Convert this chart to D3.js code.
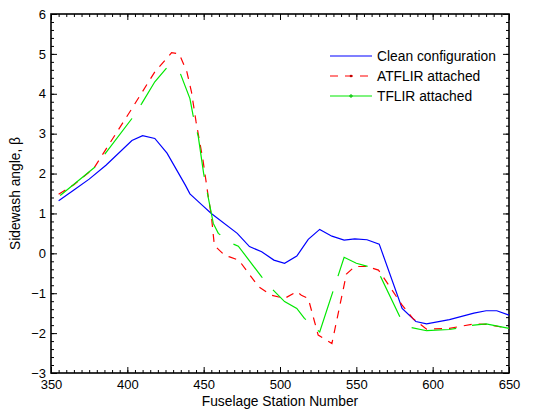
<!DOCTYPE html>
<html><head><meta charset="utf-8">
<script src="https://cdn.jsdelivr.net/npm/d3@7"></script>
<style>body{margin:0;background:#fff}svg{display:block}text{font-family:"Liberation Sans",Arial,sans-serif;fill:#000}</style>
</head><body>
<script>
const seriesNames = ["Clean configuration", "ATFLIR attached", "TFLIR attached"];
const cleanX = [355,365,375,386,403,410,418,426,438,441,449,455,472,480,488,496,503,511,518.5,526,534,542,549,557,565,580,589,596,611,627,635,642,650];
const cleanY = [1.32,1.59,1.86,2.21,2.83,2.95,2.88,2.51,1.71,1.49,1.21,1.0,0.5,0.17,0.04,-0.17,-0.25,-0.07,0.35,0.6,0.43,0.33,0.36,0.34,0.23,-1.38,-1.71,-1.77,-1.66,-1.5,-1.44,-1.44,-1.55];
const atflirX = [355,365,378,385,403,418,429,434,439,442,445,449.5,453,455,457,464,467,473,486,494.5,503,511,514,518.5,525,534,543.5,549,557,564.5,572,580,587,596,611,627,635,650];
const atflirY = [1.48,1.72,2.13,2.55,3.63,4.55,5.03,5.0,4.55,4.05,3.3,2.35,1.42,0.95,0.2,-0.06,-0.09,-0.17,-0.84,-1.05,-1.13,-0.96,-1.05,-1.13,-2.05,-2.26,-0.52,-0.33,-0.33,-0.42,-0.84,-1.3,-1.63,-1.9,-1.88,-1.77,-1.78,-1.88];
const tflirX = [355,379,385.5,403,409.5,418,426,434.5,441,443,446.5,450,453,456.3,459.6,468.3,472.7,488,494.5,503,511,516,526,542,550,557.7,566,578.5,586,596,611,627,635,650];
const tflirY = [1.42,2.17,2.5,3.38,3.76,4.3,4.66,4.53,3.88,3.47,2.92,2.0,1.4,0.75,0.5,0.25,0.18,-0.59,-0.88,-1.21,-1.38,-1.63,-1.97,-0.1,-0.25,-0.33,-0.59,-1.59,-1.86,-1.94,-1.91,-1.8,-1.77,-1.88];
const xTicks = [350,400,450,500,550,600,650];
const yTicks = [-3,-2,-1,0,1,2,3,4,5,6];
const xTitle = "Fuselage Station Number";
const yTitle = "Sidewash angle, β";

const W = 534, H = 414;
const m = {l:51, r:509, t:14, b:373};
const svg = d3.select("body").append("svg").attr("width", W).attr("height", H);
const x = d3.scaleLinear().domain([350,650]).range([m.l, m.r]);
const y = d3.scaleLinear().domain([-3,6]).range([m.b, m.t]);

const minorX = d3.range(350, 651, 5);
const minorY = d3.range(-3, 6.001, 0.2).map(v => +v.toFixed(1));

function axis(gen, scale, vals, size, tr, labels) {
  const g = svg.append("g").attr("transform", tr)
    .call(gen(scale).tickValues(vals).tickSize(size).tickSizeOuter(0).tickPadding(labels ? 7 : 0)
      .tickFormat(labels ? d3.format("d") : ""));
  g.select(".domain").remove();
  g.selectAll("line").attr("stroke", "#000").attr("stroke-width", 1);
  g.selectAll("text").attr("font-size", 13).style("font-family", '"Liberation Sans", Arial, sans-serif');
  return g;
}
// minor ticks (inward)
axis(d3.axisBottom, x, minorX, -3, `translate(0,${m.b})`, false);
axis(d3.axisTop, x, minorX, -3, `translate(0,${m.t})`, false);
axis(d3.axisLeft, y, minorY, -3, `translate(${m.l},0)`, false);
axis(d3.axisRight, y, minorY, -3, `translate(${m.r},0)`, false);
// major ticks
const gx = axis(d3.axisBottom, x, xTicks, -6, `translate(0,${m.b})`, true);
gx.selectAll("text").attr("y", 7);
axis(d3.axisTop, x, xTicks, -6, `translate(0,${m.t})`, false);
const gy = axis(d3.axisLeft, y, yTicks, -6, `translate(${m.l},0)`, true);
gy.selectAll("text").attr("x", -5);
axis(d3.axisRight, y, yTicks, -6, `translate(${m.r},0)`, false);

// frame
svg.append("rect").attr("x", m.l).attr("y", m.t).attr("width", m.r - m.l).attr("height", m.b - m.t)
  .attr("fill", "none").attr("stroke", "#000").attr("stroke-width", 1.6);

const line = d3.line().x(d => x(d[0])).y(d => y(d[1]));
const series = [
  {xs: cleanX, ys: cleanY, color: "#0000ff", dash: null, off: 0},
  {xs: atflirX, ys: atflirY, color: "#ff0000", dash: "8,7", off: 0},
  {xs: tflirX, ys: tflirY, color: "#00e800", dash: "45,16.1", off: -2}
];
series.forEach(s => {
  svg.append("path").datum(s.xs.map((v, i) => [v, s.ys[i]]))
    .attr("d", line).attr("fill", "none").attr("stroke", s.color)
    .attr("stroke-width", 1.2).attr("stroke-dasharray", s.dash).attr("stroke-dashoffset", s.off);
});

// legend
const lg = svg.append("g");
seriesNames.forEach((n, i) => {
  const yy = 56 + i * 20;
  lg.append("line").attr("x1", 330).attr("x2", 372).attr("y1", yy).attr("y2", yy)
    .attr("stroke", series[i].color).attr("stroke-width", 1.2)
    .attr("stroke-dasharray", i === 1 ? "8,7" : null);
  lg.append("text").attr("x", 377).attr("y", yy + 5).attr("font-size", 13.8).text(n);
});
lg.append("circle").attr("cx", 351).attr("cy", 76).attr("r", 1.3).attr("fill", "#c00000");
lg.append("path").attr("d", "M349,96h4M351,94v4").attr("stroke", "#00c000").attr("stroke-width", 1);

svg.append("text").attr("x", 280).attr("y", 406).attr("text-anchor", "middle").attr("font-size", 13.8).text(xTitle);
svg.append("text").attr("transform", `translate(20,${(m.t + m.b) / 2}) rotate(-90)`)
  .attr("text-anchor", "middle").attr("font-size", 13.8).text(yTitle);
</script>
</body></html>
